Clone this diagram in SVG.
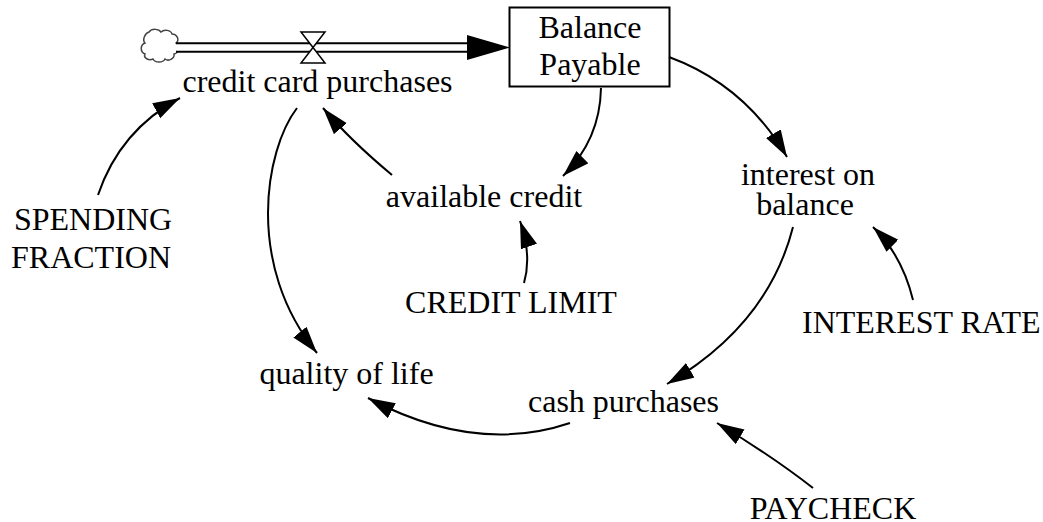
<svg xmlns="http://www.w3.org/2000/svg" width="1043" height="522" viewBox="0 0 1043 522">
<style>
  text { font-family: "Times New Roman", "Liberation Serif", "DejaVu Serif", serif; font-size: 32px; fill: #000; }
  .c { text-anchor: middle; }
  .link { fill: none; stroke: #000; stroke-width: 2; marker-end: url(#ah); }
</style>
<defs>
  <marker id="ah" markerUnits="userSpaceOnUse" markerWidth="28" markerHeight="18" refX="27" refY="8.5" orient="auto">
    <path d="M0,0 L27,8.5 L0,17 z" fill="#000"/>
  </marker>
</defs>
<rect width="1043" height="522" fill="#fff"/>

<g id="flow-credit-card-purchases">
  <path d="M149,32 c3,-4 10,-3 12,0 c3,-3 10,-2 11,2 c5,0 8,6 4,9 c4,3 3,10 -2,11 c1,4 -5,8 -9,5 c-2,4 -10,4 -12,0 c-4,2 -10,-1 -8,-5 c-5,-2 -5,-9 0,-11 c-3,-3 0,-10 4,-11 z" fill="#fff" stroke="#444" stroke-width="1.5"/>
  <line x1="176" y1="47.5" x2="470" y2="47.5" stroke="#000" stroke-width="10.5"/>
  <line x1="175" y1="47.5" x2="471" y2="47.5" stroke="#fff" stroke-width="6.5"/>
  <polygon points="467,35 510,47.5 467,60" fill="#000"/>
  <path d="M301,32 L325,32 L301,63 L325,63 Z" fill="#fff" stroke="#000" stroke-width="1.5"/>
  <text class="c" x="317.5" y="92" font-family="Liberation Serif, serif">credit card purchases</text>
</g>

<g id="balance-payable">
  <rect x="509.5" y="7.5" width="160" height="79" fill="#fff" stroke="#000" stroke-width="2"/>
  <text class="c" x="590" y="38">Balance</text>
  <text class="c" x="590" y="75">Payable</text>
</g>

<g id="available-credit"><text class="c" x="484" y="207">available credit</text></g>
<g id="interest-on-balance">
  <text class="c" x="808" y="185">interest on</text>
  <text class="c" x="805" y="215">balance</text>
</g>
<g id="spending-fraction">
  <text class="c" x="93" y="230">SPENDING</text>
  <text class="c" x="91" y="268">FRACTION</text>
</g>
<g id="credit-limit"><text class="c" x="511" y="313">CREDIT LIMIT</text></g>
<g id="interest-rate"><text x="802" y="333">INTEREST RATE</text></g>
<g id="quality-of-life"><text class="c" x="346.5" y="384">quality of life</text></g>
<g id="cash-purchases"><text class="c" x="623.5" y="412">cash purchases</text></g>
<g id="paycheck"><text class="c" x="833" y="519">PAYCHECK</text></g>

<g id="connectors">
  <path class="link" d="M98,195 Q120,130 180,98"/>
  <path class="link" d="M392,175 Q350,140 323,108"/>
  <path class="link" d="M601,88 Q600,140 563,176"/>
  <path class="link" d="M669,57 Q745,85 787,157"/>
  <path class="link" d="M793,227 Q768,325 667,384"/>
  <path class="link" d="M297,108 C265,150 245,265 317,353"/>
  <path class="link" d="M570,423 Q475,455 368,398"/>
  <path class="link" d="M524,283 Q532,255 520,221"/>
  <path class="link" d="M913,300 Q902,255 873,227"/>
  <path class="link" d="M813,488 Q772,456 717,423"/>
</g>
</svg>
